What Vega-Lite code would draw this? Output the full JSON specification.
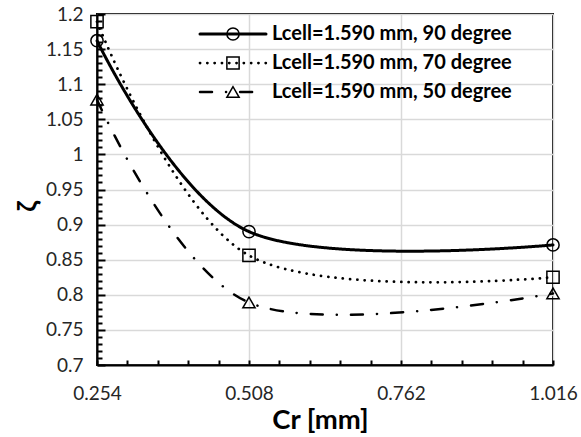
{
  "$schema": "https://vega.github.io/schema/vega-lite/v6.json",
  "autosize": {"type": "none"},
  "padding": {"left": 97, "top": 14, "right": 28, "bottom": 72},
  "width": 456,
  "height": 351,
  "background": "white",
  "config": {
    "font": "Lato",
    "view": {"stroke": "black", "strokeWidth": 2}
  },
  "data": {
    "values": [
      {"series": "Lcell=1.590 mm, 90 degree", "cr": 0.254, "zeta": 1.162},
      {"series": "Lcell=1.590 mm, 90 degree", "cr": 0.508, "zeta": 0.890},
      {"series": "Lcell=1.590 mm, 90 degree", "cr": 1.016, "zeta": 0.871},
      {"series": "Lcell=1.590 mm, 70 degree", "cr": 0.254, "zeta": 1.189},
      {"series": "Lcell=1.590 mm, 70 degree", "cr": 0.508, "zeta": 0.856},
      {"series": "Lcell=1.590 mm, 70 degree", "cr": 1.016, "zeta": 0.825},
      {"series": "Lcell=1.590 mm, 50 degree", "cr": 0.254, "zeta": 1.078},
      {"series": "Lcell=1.590 mm, 50 degree", "cr": 0.508, "zeta": 0.789},
      {"series": "Lcell=1.590 mm, 50 degree", "cr": 1.016, "zeta": 0.802}
    ]
  },
  "resolve": {"axis": {"x": "independent", "y": "independent"}},
  "layer": [
    {
      "mark": {"type": "line", "interpolate": "cardinal", "color": "black", "strokeCap": "round"},
      "encoding": {
        "x": {
          "field": "cr",
          "type": "quantitative",
          "scale": {"domain": [0.254, 1.016], "nice": false, "zero": false},
          "axis": {
            "orient": "bottom",
            "values": [0.254, 0.3048, 0.3556, 0.4064, 0.4572, 0.508, 0.5588, 0.6096, 0.6604, 0.7112, 0.762, 0.8128, 0.8636, 0.9144, 0.9652, 1.016],
            "labelExpr": "abs(datum.value / 0.254 - round(datum.value / 0.254)) < 0.001 ? format(datum.value, '.3f') : ''",
            "labelOverlap": false,
            "labelFlush": false,
            "labelFontSize": 19,
            "labelColor": "#262626",
            "labelPadding": 24,
            "tickSize": -5,
            "tickWidth": 2,
            "tickColor": "black",
            "domainColor": "black",
            "domainWidth": 2,
            "grid": true,
            "gridColor": "#d9d9d9",
            "gridWidth": 1.5,
            "gridOpacity": {"condition": {"test": "abs(datum.value / 0.254 - round(datum.value / 0.254)) < 0.001", "value": 1}, "value": 0},
            "title": "Cr [mm]",
            "titleFontSize": 27.5,
            "titleFontWeight": "bold",
            "titleColor": "black",
            "titleX": 223,
            "titleY": 63,
            "titleBaseline": "alphabetic"
          }
        },
        "y": {
          "field": "zeta",
          "type": "quantitative",
          "scale": {"domain": [0.7, 1.2], "nice": false, "zero": false},
          "axis": {
            "orient": "left",
            "values": [0.7, 0.71, 0.72, 0.73, 0.74, 0.75, 0.76, 0.77, 0.78, 0.79, 0.8, 0.81, 0.82, 0.83, 0.84, 0.85, 0.86, 0.87, 0.88, 0.89, 0.9, 0.91, 0.92, 0.93, 0.94, 0.95, 0.96, 0.97, 0.98, 0.99, 1.0, 1.01, 1.02, 1.03, 1.04, 1.05, 1.06, 1.07, 1.08, 1.09, 1.1, 1.11, 1.12, 1.13, 1.14, 1.15, 1.16, 1.17, 1.18, 1.19, 1.2],
            "labelExpr": "abs(datum.value * 20 - round(datum.value * 20)) < 0.001 ? format(datum.value, '.2~f') : ''",
            "labelOverlap": false,
            "labelFlush": false,
            "labelFontSize": 19,
            "labelColor": "#262626",
            "labelPadding": 22,
            "tickSize": {"condition": {"test": "abs(datum.value * 20 - round(datum.value * 20)) < 0.001", "value": -8}, "value": -5},
            "tickWidth": 2,
            "tickColor": "black",
            "domainColor": "black",
            "domainWidth": 2,
            "grid": true,
            "gridColor": "#d9d9d9",
            "gridWidth": 1.5,
            "gridOpacity": {"condition": {"test": "abs(datum.value * 20 - round(datum.value * 20)) < 0.001", "value": 1}, "value": 0},
            "title": "ζ",
            "titleFont": "Lato, DejaVu Sans",
            "titleFontSize": 26,
            "titleFontWeight": "bold",
            "titleColor": "black",
            "titleX": -62,
            "titleY": 192,
            "titleAngle": -90,
            "titleAlign": "center",
            "titleBaseline": "alphabetic"
          }
        },
        "strokeDash": {
          "field": "series",
          "type": "nominal",
          "scale": {
            "domain": ["Lcell=1.590 mm, 90 degree", "Lcell=1.590 mm, 70 degree", "Lcell=1.590 mm, 50 degree"],
            "range": [[1, 0], [0.1, 7.2], [12, 14, 0.1, 14]]
          },
          "legend": {
            "orient": "none",
            "legendX": 126,
            "legendY": 10,
            "title": null,
            "padding": 0,
            "symbolType": "M-6,0H6",
            "symbolSize": 121,
            "symbolStrokeWidth": 3,
            "symbolStrokeColor": "black",
            "labelFontSize": 20,
            "labelFontWeight": "bold",
            "labelColor": "black",
            "labelOffset": 29,
            "labelLimit": 400,
            "rowPadding": 9,
            "encode": {"symbols": {"update": {"strokeCap": {"value": "round"}}}}
          }
        },
        "strokeWidth": {
          "field": "series",
          "type": "nominal",
          "scale": {
            "domain": ["Lcell=1.590 mm, 90 degree", "Lcell=1.590 mm, 70 degree", "Lcell=1.590 mm, 50 degree"],
            "range": [3, 2.5, 3]
          },
          "legend": null
        }
      }
    },
    {
      "mark": {"type": "point", "filled": false, "color": "black", "strokeWidth": 1.5, "size": 150, "opacity": 1},
      "encoding": {
        "x": {
          "field": "cr",
          "type": "quantitative",
          "scale": {"domain": [0.254, 1.016], "nice": false, "zero": false},
          "axis": {"orient": "bottom", "labels": false, "ticks": false, "domain": false, "grid": false, "title": null}
        },
        "y": {
          "field": "zeta",
          "type": "quantitative",
          "scale": {"domain": [0.7, 1.2], "nice": false, "zero": false},
          "axis": {"orient": "left", "labels": false, "ticks": false, "domain": false, "grid": false, "title": null}
        },
        "shape": {
          "field": "series",
          "type": "nominal",
          "sort": ["Lcell=1.590 mm, 90 degree", "Lcell=1.590 mm, 70 degree", "Lcell=1.590 mm, 50 degree"],
          "scale": {"range": ["circle", "square", "triangle-up"]},
          "legend": {
            "orient": "none",
            "legendX": 126,
            "legendY": 10,
            "title": null,
            "padding": 0,
            "symbolSize": 150,
            "symbolStrokeWidth": 1.5,
            "symbolStrokeColor": "black",
            "labelFontSize": 20,
            "labelExpr": "' '",
            "rowPadding": 9
          }
        }
      }
    }
  ]
}
